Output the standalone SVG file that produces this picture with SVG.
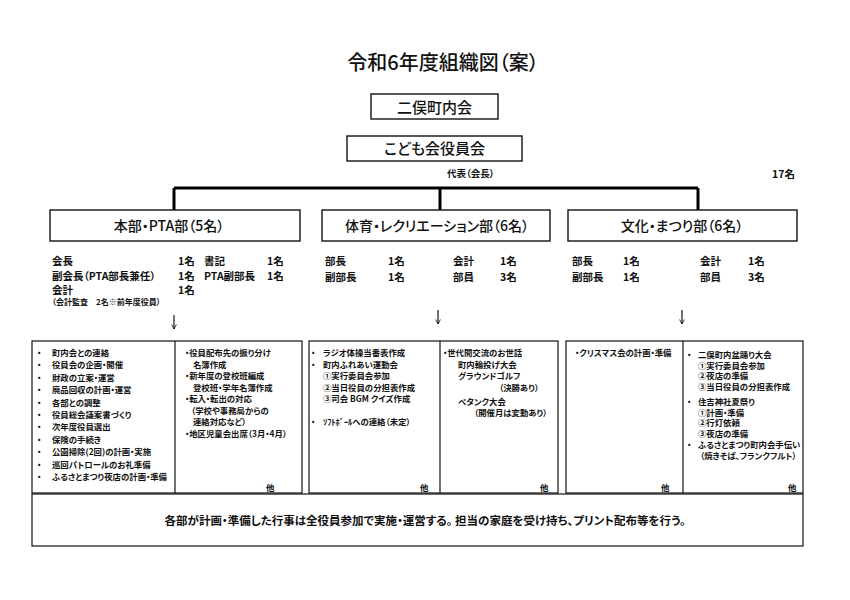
<svg xmlns="http://www.w3.org/2000/svg" width="850" height="600" viewBox="0 0 850 600">
<style>
text{font-family:"Noto Sans CJK JP","Noto Sans CJK SC",sans-serif;fill:#111;font-feature-settings:"palt" 1;}
.title{font-size:20px;font-weight:500;}
.h{font-size:15px;font-weight:500;text-anchor:middle;}
.d{font-size:14px;font-weight:500;text-anchor:middle;}
.m{font-size:10.5px;font-weight:700;}
.s{font-size:8.5px;font-weight:700;}
.t{font-size:8.4px;font-weight:700;}
.f{font-size:11.5px;font-weight:700;text-anchor:middle;}
.box{fill:#fff;stroke:#111;stroke-width:1.4;}
.tb{fill:none;stroke:#111;stroke-width:1.2;}
.conn{fill:none;stroke:#000;stroke-width:3;}
.arr{fill:none;stroke:#000;stroke-width:1.1;}
</style>
<defs>
<marker id="ah" viewBox="0 0 10 10" refX="9.5" refY="5" markerWidth="6" markerHeight="6" orient="auto" markerUnits="userSpaceOnUse">
<path d="M2,1 L9.5,5 L2,9" fill="none" stroke="#000" stroke-width="1.3"/>
</marker>
</defs>
<rect width="850" height="600" fill="#fff"/>

<text class="title" x="443" y="70" text-anchor="middle">令和6年度組織図（案）</text>

<g id="futamata">
<rect class="box" x="371" y="94" width="127" height="25"/>
<text class="h" x="434.5" y="112.5">二俣町内会</text>
</g>

<g id="kodomokai">
<rect class="box" x="347" y="136" width="175" height="25"/>
<text class="h" x="434.5" y="154">こども会役員会</text>
</g>

<text class="s" x="447" y="177" style="font-size:9.5px">代表（会長）</text>
<text class="m" x="772" y="178">17名</text>

<g id="connectors">
<path class="conn" d="M174,188 H698 M174,188 V210 M440,188 V210 M698,188 V210"/>
<line class="arr" x1="174" y1="315" x2="174" y2="329" marker-end="url(#ah)"/>
<line class="arr" x1="438" y1="310" x2="438" y2="324" marker-end="url(#ah)"/>
<line class="arr" x1="682" y1="310" x2="682" y2="324" marker-end="url(#ah)"/>
</g>

<g id="dept-honbu">
<rect class="box" x="50" y="210" width="250" height="31"/>
<text class="d" x="169" y="231">本部・PTA部（5名）</text>
<text class="m" x="52" y="265">会長</text>
<text class="m" x="178" y="265">1名</text>
<text class="m" x="204" y="265">書記</text>
<text class="m" x="267" y="265">1名</text>
<text class="m" x="52" y="280">副会長（PTA部長兼任）</text>
<text class="m" x="178" y="280">1名</text>
<text class="m" x="204" y="280">PTA副部長</text>
<text class="m" x="267" y="280">1名</text>
<text class="m" x="52" y="294">会計</text>
<text class="m" x="178" y="294">1名</text>
<text class="s" x="52" y="305" style="font-size:8px">（会計監査　2名※前年度役員）</text>
</g>

<g id="dept-taiiku">
<rect class="box" x="322" y="210" width="228" height="31"/>
<text class="d" x="437" y="231">体育・レクリエーション部（6名）</text>
<text class="m" x="325" y="265">部長</text>
<text class="m" x="388" y="265">1名</text>
<text class="m" x="453" y="265">会計</text>
<text class="m" x="500" y="265">1名</text>
<text class="m" x="325" y="281">副部長</text>
<text class="m" x="388" y="281">1名</text>
<text class="m" x="453" y="281">部員</text>
<text class="m" x="500" y="281">3名</text>
</g>

<g id="dept-bunka">
<rect class="box" x="568" y="210" width="229" height="31"/>
<text class="d" x="682" y="231">文化・まつり部（6名）</text>
<text class="m" x="572" y="265">部長</text>
<text class="m" x="623" y="265">1名</text>
<text class="m" x="700" y="265">会計</text>
<text class="m" x="748" y="265">1名</text>
<text class="m" x="572" y="281">副部長</text>
<text class="m" x="623" y="281">1名</text>
<text class="m" x="700" y="281">部員</text>
<text class="m" x="748" y="281">3名</text>
</g>

<g id="tasks-honbu">
<rect class="tb" x="32" y="341" width="270" height="152"/>
<line class="tb" x1="175" y1="341" x2="175" y2="493"/>
<text class="t" x="37" y="356">・</text><text class="t" x="52" y="356">町内会との連絡</text>
<text class="t" x="37" y="368.4">・</text><text class="t" x="52" y="368.4">役員会の企画・開催</text>
<text class="t" x="37" y="380.8">・</text><text class="t" x="52" y="380.8">財政の立案・運営</text>
<text class="t" x="37" y="393.2">・</text><text class="t" x="52" y="393.2">廃品回収の計画・運営</text>
<text class="t" x="37" y="405.6">・</text><text class="t" x="52" y="405.6">各部との調整</text>
<text class="t" x="37" y="418">・</text><text class="t" x="52" y="418">役員総会議案書づくり</text>
<text class="t" x="37" y="430.4">・</text><text class="t" x="52" y="430.4">次年度役員選出</text>
<text class="t" x="37" y="442.8">・</text><text class="t" x="52" y="442.8">保険の手続き</text>
<text class="t" x="37" y="455.2">・</text><text class="t" x="52" y="455.2">公園掃除(2回)の計画・実施</text>
<text class="t" x="37" y="467.6">・</text><text class="t" x="52" y="467.6">巡回パトロールのお礼準備</text>
<text class="t" x="37" y="480">・</text><text class="t" x="52" y="480">ふるさとまつり夜店の計画・準備</text>
<text class="t" x="185" y="356">・役員配布先の振り分け</text>
<text class="t" x="193" y="367.5">名簿作成</text>
<text class="t" x="185" y="379">・新年度の登校班編成</text>
<text class="t" x="193" y="390.5">登校班・学年名簿作成</text>
<text class="t" x="185" y="402">・転入・転出の対応</text>
<text class="t" x="191" y="413.5">（学校や事務局からの</text>
<text class="t" x="193" y="425">連絡対応など）</text>
<text class="t" x="185" y="436.5">・地区児童会出席（3月・4月）</text>
<text class="t" x="266" y="490.5">他</text>
</g>

<g id="tasks-taiiku">
<rect class="tb" x="309" y="341" width="249" height="152"/>
<line class="tb" x1="440" y1="341" x2="440" y2="493"/>
<text class="t" x="311" y="356">・</text><text class="t" x="323" y="356">ラジオ体操当番表作成</text>
<text class="t" x="311" y="367.5">・</text><text class="t" x="323" y="367.5">町内ふれあい運動会</text>
<text class="t" x="323" y="379">①実行委員会参加</text>
<text class="t" x="323" y="390.5">②当日役員の分担表作成</text>
<text class="t" x="323" y="402">③司会 BGM クイズ作成</text>
<text class="t" x="311" y="425">・</text><text class="t" x="323" y="425">ｿﾌﾄﾎﾞｰﾙへの連絡（未定）</text>
<text class="t" x="420" y="490.5">他</text>
<text class="t" x="443" y="356">・世代間交流のお世話</text>
<text class="t" x="458" y="367.5">町内輪投げ大会</text>
<text class="t" x="458" y="379">グラウンドゴルフ</text>
<text class="t" x="499" y="390.5">（決勝あり）</text>
<text class="t" x="458" y="405">ペタンク大会</text>
<text class="t" x="474" y="415.5">（開催月は変動あり）</text>
<text class="t" x="540" y="490.5">他</text>
</g>

<g id="tasks-bunka">
<rect class="tb" x="566" y="341" width="237" height="152"/>
<line class="tb" x1="683" y1="341" x2="683" y2="493"/>
<text class="t" x="575" y="356">・クリスマス会の計画・準備</text>
<text class="t" x="661" y="490.5">他</text>
<text class="t" x="687" y="358">・</text><text class="t" x="698" y="358">二俣町内盆踊り大会</text>
<text class="t" x="698" y="368.5">①実行委員会参加</text>
<text class="t" x="698" y="379">②夜店の準備</text>
<text class="t" x="698" y="390">③当日役員の分担表作成</text>
<text class="t" x="687" y="405">・</text><text class="t" x="698" y="405">住吉神社夏祭り</text>
<text class="t" x="698" y="415.5">①計画・準備</text>
<text class="t" x="698" y="426">②行灯依頼</text>
<text class="t" x="698" y="436.5">③夜店の準備</text>
<text class="t" x="687" y="448">・</text><text class="t" x="698" y="448">ふるさとまつり町内会手伝い</text>
<text class="t" x="700" y="458.5">（焼きそば、フランクフルト）</text>
<text class="t" x="788" y="490.5">他</text>
</g>

<g id="footer">
<rect class="tb" x="32" y="494" width="771" height="52"/>
<text class="f" x="425" y="525">各部が計画・準備した行事は全役員参加で実施・運営する。 担当の家庭を受け持ち、プリント配布等を行う。</text>
</g>
</svg>
